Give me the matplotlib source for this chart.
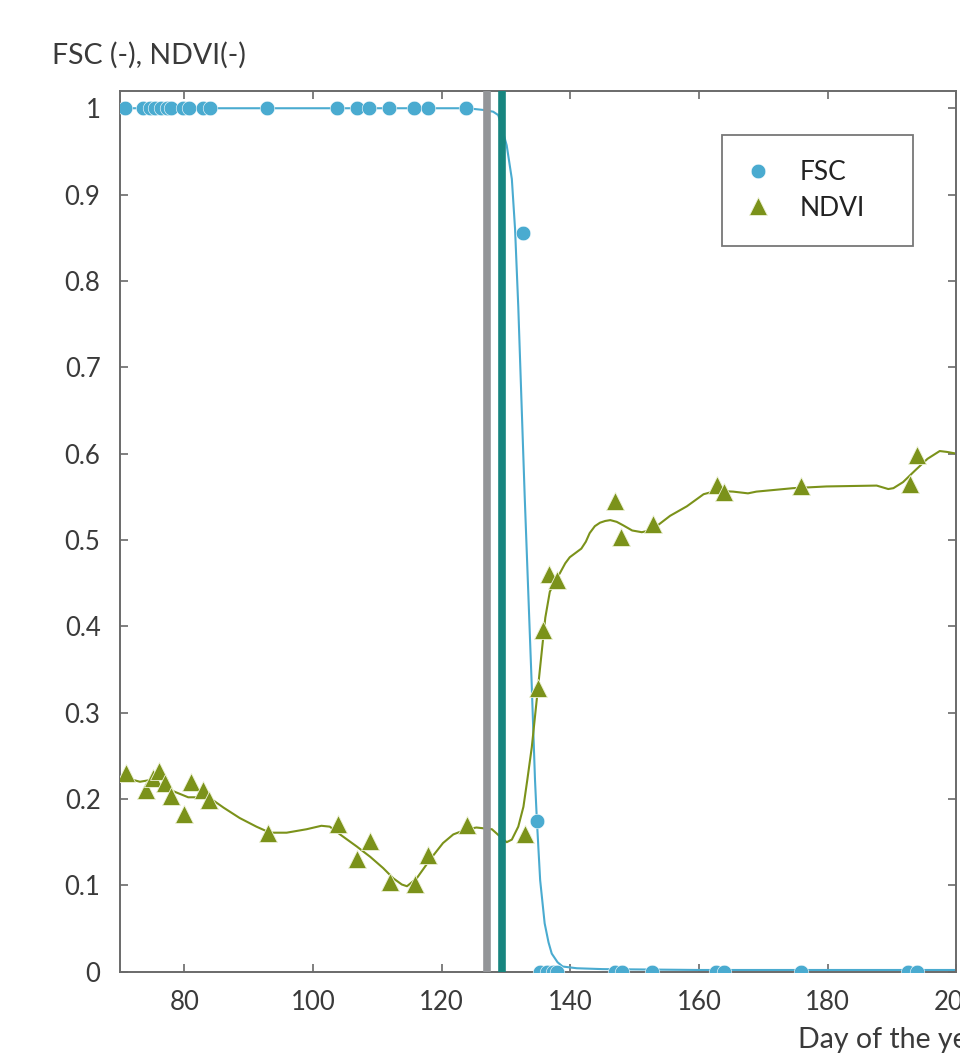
import numpy as np
import matplotlib
matplotlib.use('Agg')
import matplotlib.pyplot as plt
from matplotlib.ticker import FuncFormatter

plt.rcParams['font.family'] = ['Lato', 'DejaVu Sans']

# FSC observations
fsc_day = [70.8, 73.6, 74.6, 75.4, 76.3, 77.3, 77.9, 79.8, 80.8, 82.9, 84.0, 92.8,
           103.8, 106.8, 108.7, 111.8, 115.7, 117.8, 123.8,
           132.6, 134.8, 135.3, 136.3, 137.3, 137.9, 146.9, 148.0, 152.7,
           162.7, 163.8, 175.8, 192.5, 193.8]
fsc_val = [1, 1, 1, 1, 1, 1, 1, 1, 1, 1, 1, 1,
           1, 1, 1, 1, 1, 1, 1,
           0.855, 0.174, 0, 0, 0, 0, 0, 0, 0,
           0, 0, 0, 0, 0]

# NDVI observations
ndvi_day = [71.0, 74.0, 75.2, 76.0, 77.0, 77.9, 79.9, 81.0, 82.9, 83.9, 93.0,
            103.9, 106.9, 108.9, 111.9, 115.8, 117.9, 123.9, 132.9,
            135.0, 135.7, 136.7, 137.9, 146.9, 147.9, 152.9, 162.8, 163.9,
            175.9, 192.8, 193.8]
ndvi_val = [0.230, 0.211, 0.224, 0.233, 0.219, 0.203, 0.183, 0.220, 0.211, 0.199, 0.161,
            0.171, 0.130, 0.151, 0.104, 0.101, 0.135, 0.170, 0.160,
            0.329, 0.396, 0.461, 0.454, 0.545, 0.504, 0.519, 0.564, 0.555,
            0.563, 0.565, 0.598]

# smoothed curves
fsc_curve_day = [70, 124, 126.5, 128.0, 128.8, 130.1, 130.9, 131.4, 131.9, 132.4, 132.9,
                 133.4, 134.0, 134.5, 134.8, 135.3, 136.0, 136.6, 137.1, 138.0, 138.8,
                 141, 145, 160, 200]
fsc_curve_val = [1, 1, 0.998, 0.996, 0.992, 0.957, 0.918, 0.86, 0.77, 0.66, 0.55,
                 0.45, 0.33, 0.222, 0.174, 0.106, 0.056, 0.034, 0.021, 0.011, 0.006,
                 0.004, 0.003, 0.002, 0.002]

ndvi_curve_day = [70, 72.1, 73.1, 74.7, 76.2, 78.3, 80.6, 82.4, 84.0, 86.1, 88.6, 91.2,
                  93.3, 95.9, 99.0, 101.3, 102.6, 104.2, 106.8, 108.9, 110.9, 112.5,
                  113.8, 114.6, 116.1, 118.2, 120.2, 121.8, 123.9, 125.4, 127.8, 129.0,
                  130.1, 130.9, 131.9, 132.7, 133.3, 134.0, 134.7, 135.4, 136.1, 136.8,
                  137.6, 138.4, 139.2, 139.9, 140.8, 141.7, 142.4, 143.0, 143.8, 144.6,
                  145.4, 146.2, 147.2, 148.2, 149.6, 151.1, 152.3, 153.4,
                  155.5, 158.1, 160.7, 162.7, 165.3, 167.6, 168.9, 174.6, 179.8, 187.6,
                  189.4, 190.2, 191.7, 193.5, 195.5, 197.4, 198.5, 200]
ndvi_curve_val = [0.224, 0.222, 0.220, 0.222, 0.215, 0.209, 0.202, 0.202, 0.201, 0.190,
                  0.178, 0.168, 0.161, 0.161, 0.165, 0.169, 0.168, 0.159, 0.145, 0.133,
                  0.120, 0.108, 0.101, 0.099, 0.108, 0.130, 0.149, 0.159, 0.165, 0.167,
                  0.165, 0.157, 0.150, 0.153, 0.168, 0.191, 0.222, 0.26, 0.31, 0.36,
                  0.41, 0.44, 0.452, 0.462, 0.473, 0.480, 0.485, 0.490, 0.498, 0.508,
                  0.516, 0.520, 0.522, 0.523, 0.521, 0.517, 0.511, 0.509, 0.511, 0.516,
                  0.528, 0.539, 0.553, 0.557, 0.556, 0.554, 0.556, 0.560,
                  0.562, 0.563, 0.559, 0.560, 0.567, 0.580, 0.594, 0.603, 0.602, 0.600]

# event markers (grey / teal bars)
event_days = [127.0, 129.4]
event_colors = ['#939598', '#17857f']

blue = '#4aabd0'
green = '#7b921a'
text_col = '#3a3a3a'
spine_col = '#6a6a6a'

fig = plt.figure(figsize=(9.6, 10.53), dpi=100)
ax = fig.add_axes([0.125, 0.0772, 0.8713, 0.8364])

ax.plot(fsc_curve_day, fsc_curve_val, color=blue, lw=1.5, zorder=2)
ax.plot(ndvi_curve_day, ndvi_curve_val, color=green, lw=1.5, zorder=2)

for d, c in zip(event_days, event_colors):
    ax.axvline(d, color=c, lw=5.5, zorder=3)

ax.plot(fsc_day, fsc_val, 'o', color=blue, ms=10.5, mec='white', mew=0.4,
        label='FSC', zorder=4)
ax.plot(ndvi_day, ndvi_val, '^', color=green, ms=13, mec='#eef2d8', mew=0.6,
        label='NDVI', zorder=4)

ax.set_xlim(70, 200)
ax.set_ylim(0, 1.02)
ax.set_xticks(range(80, 201, 20))
ax.set_yticks(np.arange(0, 1.01, 0.1))
ax.yaxis.set_major_formatter(FuncFormatter(lambda v, p: '%g' % round(v, 1)))

for s in ax.spines.values():
    s.set_color(spine_col)
    s.set_linewidth(1.4)
ax.tick_params(direction='in', top=True, right=True, length=6, width=1.2,
               color=spine_col, labelsize=18.5, labelcolor=text_col)
ax.tick_params(axis='y', pad=14)
ax.tick_params(axis='x', pad=13)

leg = ax.legend(loc='upper left', bbox_to_anchor=(0.72, 0.95, 0.228, 0.0),
                mode='expand', fontsize=19, frameon=True, fancybox=False,
                borderpad=0.95, labelspacing=0.4, handlelength=0.8,
                handletextpad=1.2, borderaxespad=0)
leg.get_frame().set_edgecolor('#555555')
leg.get_frame().set_linewidth(1.3)
for t in leg.get_texts():
    t.set_color('#222222')

fig.text(52 / 960, 1 - 55 / 1053, 'FSC (-), NDVI(-)', fontsize=20.5,
         color=text_col, ha='left', va='center')
fig.text(798 / 960, 1 - 1040 / 1053, 'Day of the year', fontsize=20.5,
         color=text_col, ha='left', va='center')

fig.savefig('out.png', dpi=100)
